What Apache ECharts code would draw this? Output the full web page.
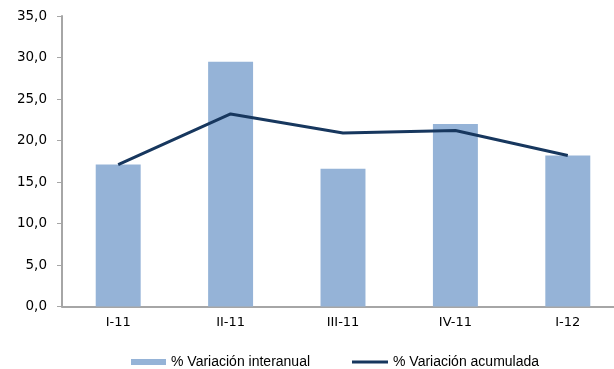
<!DOCTYPE html>
<html>
<head>
<meta charset="utf-8">
<script src="https://cdn.jsdelivr.net/npm/echarts@6/dist/echarts.min.js"></script>
<style>
  html, body { margin: 0; padding: 0; background: #ffffff; overflow: hidden; }
  /* The plot runs a little past the right edge of the window */
  #chart { width: 624px; height: 369px; }
</style>
</head>
<body>
<div id="chart"></div>
<script>
// Quarters shown on the horizontal axis
var categories = ['I-11', 'II-11', 'III-11', 'IV-11', 'I-12'];
// Year-on-year change, %
var interanual = [17.1, 29.5, 16.6, 22.0, 18.2];
// Cumulative change, %
var acumulada = [17.1, 23.2, 20.9, 21.2, 18.2];
// Value axis range
var yMin = 0, yMax = 35, yStep = 5;

var chart = echarts.init(document.getElementById('chart'), null, { renderer: 'canvas' });

function fmt(v) { return v.toFixed(1).replace('.', ','); }

var legendText = { fontFamily: 'Liberation Sans, Arial, sans-serif', fontSize: 14, color: '#000' };

chart.setOption({
  animation: false,
  backgroundColor: '#ffffff',
  grid: { left: 62, top: 16, right: 0, height: 290.5, containLabel: false },
  legend: [
    {
      top: 355, left: 131, padding: 0, itemWidth: 35, itemHeight: 6, itemGap: 4,
      textStyle: legendText,
      data: [{ name: '% Variación interanual', icon: 'rect' }]
    },
    {
      top: 355, left: 352, padding: 0, itemWidth: 36, itemHeight: 3, itemGap: 4,
      textStyle: legendText,
      data: [{ name: '% Variación acumulada', icon: 'rect' }]
    }
  ],
  xAxis: {
    type: 'category',
    data: categories,
    axisLine: { lineStyle: { color: '#A6A6A6', width: 2 } },
    axisTick: { show: false },
    axisLabel: { fontFamily: 'DejaVu Sans, Verdana, sans-serif', fontSize: 13, color: '#000', margin: 10 }
  },
  yAxis: {
    type: 'value',
    min: yMin, max: yMax, interval: yStep,
    axisLine: { show: true, lineStyle: { color: '#A6A6A6', width: 2 } },
    axisTick: { show: true, length: 5, lineStyle: { color: '#A6A6A6', width: 1 } },
    splitLine: { show: false },
    axisLabel: { fontFamily: 'DejaVu Sans, Verdana, sans-serif', fontSize: 13.5, color: '#000', margin: 15, formatter: fmt }
  },
  series: [
    {
      name: '% Variación interanual',
      type: 'bar',
      data: interanual,
      barWidth: '40%',
      itemStyle: { color: '#95B3D7' }
    },
    {
      name: '% Variación acumulada',
      type: 'line',
      data: acumulada,
      symbol: 'none',
      lineStyle: { color: '#17375E', width: 3 },
      itemStyle: { color: '#17375E' }
    }
  ]
});
</script>
</body>
</html>
